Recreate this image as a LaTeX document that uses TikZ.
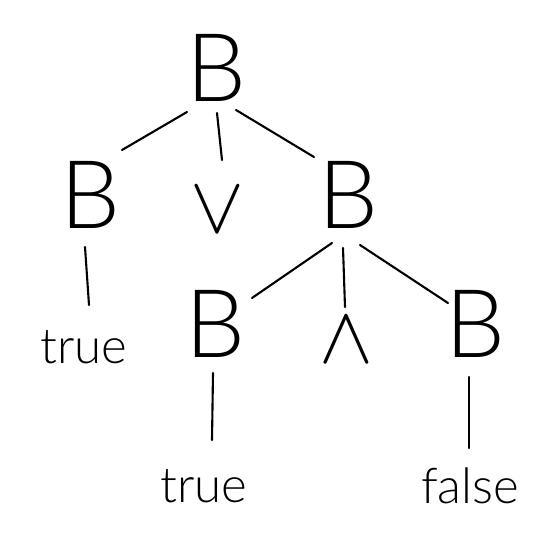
\RequirePackage{fix-cm}
\documentclass[tikz,border=0pt]{standalone}
\usepackage{fontspec}
\setmainfont{Lato}[UprightFont=* Light]
\usetikzlibrary{calc}
\tikzset{
	nonterm/.style={inner sep=0pt, font=\fontsize{54}{58}\selectfont},
	leaf/.style={inner sep=0pt, font=\fontsize{28}{32}\selectfont},
	oper/.style={inner sep=0pt, font=\fontsize{46}{50}\selectfont},
	branch/.style={line width=1.2pt}
}
\begin{document}
\begin{tikzpicture}[x=0.02cm, y=-0.02cm, line cap=round, line join=round]
			\useasboundingbox (0,0) rectangle (550,548);
			
			% Nonterminals
			\node[nonterm] (root) at (216,68) {B};
			\node[nonterm] (bl) at (90,195) {B};
			\node[nonterm] (br) at (348,195) {B};
			\node[nonterm] (bm) at (215,324) {B};
			\node[nonterm] (bf) at (475,324) {B};
			
			% Operators
			\node[oper] (or) at (217,210) {$\vee$};
			\node[oper] (and) at (346,340) {$\wedge$};
			
			% Leaves
			\node[leaf] (t1) at (84,347) {true};
			\node[leaf] (t2) at (204,486) {true};
			\node[leaf] (f) at (470,486) {false};
			
			% Branches
			\draw[branch] ($(root)+(-29,44)$) -- ($(bl)+(32,-45)$);
			\draw[branch] ($(root)+(1,45)$) -- ($(or)+(5,-50)$);
			\draw[branch] ($(root)+(20,42)$) -- ($(br)+(-34,-38)$);
			\draw[branch] ($(bl)+(-5,52)$) -- ($(t1)+(5,-42)$);
			\draw[branch] ($(br)+(-16,48)$) -- ($(bm)+(37,-26)$);
			\draw[branch] ($(br)+(-5,53)$) -- ($(and)+(-1,-33)$);
			\draw[branch] ($(br)+(12,50)$) -- ($(bf)+(-27,-21)$);
			\draw[branch] ($(bm)+(-2,49)$) -- ($(t2)+(8,-46)$);
			\draw[branch] ($(bf)+(-6,53)$) -- ($(f)+(-1,-38)$);
			
		\end{tikzpicture}
\end{document}
